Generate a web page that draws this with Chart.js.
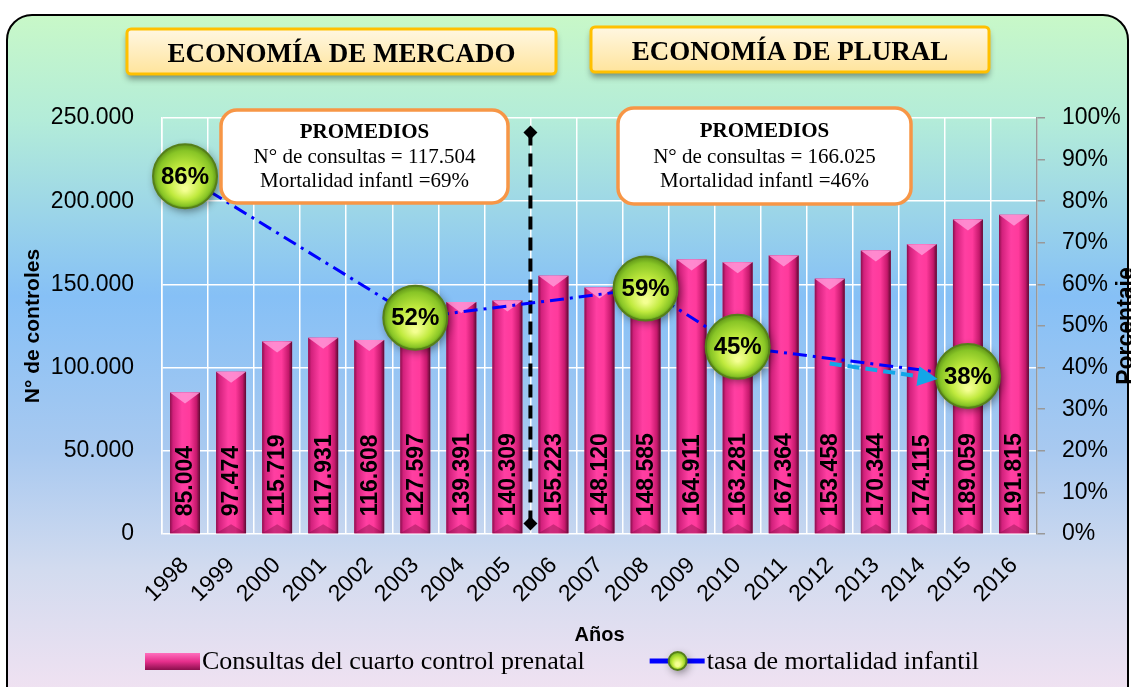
<!DOCTYPE html>
<html>
<head>
<meta charset="utf-8">
<script src="https://cdn.jsdelivr.net/npm/chart.js@4.4.0/dist/chart.umd.min.js"></script>
<style>
html, body { margin: 0; padding: 0; width: 1131px; height: 687px; overflow: hidden; background: #fff; }
#bg {
    position: absolute; left: 6px; top: 14px; width: 1119px; height: 700px;
    border: 2px solid #000; border-radius: 26px;
    background: linear-gradient(to bottom, #c8f8c8 0%, #b3ecd9 15%, #86c0f6 40%, #a8c9f0 62%, #d2dbef 79%, #f6e3f2 100%);
}
#wrap { position: absolute; left: 0; top: 0; width: 1131px; height: 687px; }
</style>
</head>
<body>
<div id="bg"></div>
<div id="wrap"><canvas id="chart" width="1131" height="687"></canvas></div>
<script>
const years = ['1998', '1999', '2000', '2001', '2002', '2003', '2004', '2005', '2006', '2007',
               '2008', '2009', '2010', '2011', '2012', '2013', '2014', '2015', '2016'];
const consultas = [85004, 97474, 115719, 117931, 116608, 127597, 139391, 140309, 155223, 148120,
                   148585, 164911, 163281, 167364, 153458, 170344, 174115, 189059, 191815];
const mortalidad = [86, null, null, null, null, 52, null, null, null, null,
                    59, null, 45, null, null, null, null, 38, null];
const tendencia = [null, null, null, null, null, null, null, null, null, null,
                   null, null, null, null, 41, null, 37.8, null, null];
const periodos = ['ECONOMÍA DE MERCADO', 'ECONOMÍA DE PLURAL'];
const promediosMercado = ['PROMEDIOS', 'N° de consultas = 117.504', 'Mortalidad infantl =69%'];
const promediosPlural = ['PROMEDIOS', 'N° de consultas = 166.025', 'Mortalidad infantl =46%'];

const SANS = '"Liberation Sans", Arial, sans-serif';
const SERIF = '"Liberation Serif", "Times New Roman", serif';

function miles(v) {
    return String(v).replace(/\B(?=(\d{3})+(?!\d))/g, '.');
}

function roundRect(ctx, x, y, w, h, r) {
    ctx.beginPath();
    ctx.moveTo(x + r, y);
    ctx.arcTo(x + w, y, x + w, y + h, r);
    ctx.arcTo(x + w, y + h, x, y + h, r);
    ctx.arcTo(x, y + h, x, y, r);
    ctx.arcTo(x, y, x + w, y, r);
    ctx.closePath();
}

function bubble(ctx, x, y, r, txt) {
    ctx.save();
    ctx.shadowColor = 'rgba(0,0,0,0.45)';
    ctx.shadowBlur = 8;
    ctx.shadowOffsetX = 2;
    ctx.shadowOffsetY = 3;
    const g = ctx.createRadialGradient(x, y + r * 0.4, 2, x, y, r);
    g.addColorStop(0, '#f4ff92');
    g.addColorStop(0.5, '#c0ea3e');
    g.addColorStop(0.85, '#88c526');
    g.addColorStop(1, '#5e9418');
    ctx.beginPath();
    ctx.arc(x, y, r, 0, Math.PI * 2);
    ctx.fillStyle = g;
    ctx.fill();
    ctx.shadowColor = 'transparent';
    ctx.lineWidth = 2;
    ctx.strokeStyle = '#567f1a';
    ctx.stroke();
    if (txt) {
        ctx.fillStyle = '#000';
        ctx.font = 'bold 24px ' + SANS;
        ctx.textAlign = 'center';
        ctx.textBaseline = 'middle';
        ctx.fillText(txt, x, y + 1);
    }
    ctx.restore();
}

function barGradient(ctx, l, r) {
    const g = ctx.createLinearGradient(l, 0, r, 0);
    g.addColorStop(0, '#8a0f4c');
    g.addColorStop(0.1, '#d2217c');
    g.addColorStop(0.4, '#ff3fa2');
    g.addColorStop(0.65, '#ff3a9c');
    g.addColorStop(0.88, '#c5186c');
    g.addColorStop(1, '#5a0a30');
    return g;
}

const decoraciones = {
    id: 'decoraciones',
    beforeDatasetsDraw(chart) {
        const ctx = chart.ctx;
        // cajas de periodo
        const cajas = [[127, 29, 429, 45], [591, 27, 398, 45]];
        cajas.forEach((b, i) => {
            ctx.save();
            ctx.shadowColor = 'rgba(0,0,0,0.4)';
            ctx.shadowBlur = 6;
            ctx.shadowOffsetY = 5;
            const g = ctx.createLinearGradient(0, b[1], 0, b[1] + b[3]);
            g.addColorStop(0, '#fff7e2');
            g.addColorStop(1, '#ffe49c');
            roundRect(ctx, b[0], b[1], b[2], b[3], 4);
            ctx.fillStyle = g;
            ctx.fill();
            ctx.shadowColor = 'transparent';
            ctx.lineWidth = 3;
            ctx.strokeStyle = '#ffc000';
            ctx.stroke();
            ctx.fillStyle = '#000';
            ctx.font = 'bold 27px ' + SERIF;
            ctx.textAlign = 'center';
            ctx.textBaseline = 'middle';
            ctx.fillText(periodos[i], b[0] + b[2] / 2, b[1] + b[3] / 2 + 4);
            ctx.restore();
        });
    },
    afterDatasetDraw(chart, args) {
        const ctx = chart.ctx;
        const meta = args.meta;
        const x = chart.scales.x, y1 = chart.scales.y1;
        if (args.index === 0) {
            ctx.save();
            meta.data.forEach((el, i) => {
                const p = el.getProps(['x', 'y', 'base', 'width'], true);
                const l = p.x - p.width / 2, r = p.x + p.width / 2;
                ctx.fillStyle = barGradient(ctx, l, r);
                ctx.fillRect(l, p.y, p.width, p.base - p.y);
                ctx.beginPath();
                ctx.moveTo(l, p.y); ctx.lineTo(r, p.y); ctx.lineTo(p.x, p.y + 11); ctx.closePath();
                ctx.fillStyle = 'rgba(255,150,215,0.85)';
                ctx.fill();
                ctx.beginPath();
                ctx.moveTo(l, p.base); ctx.lineTo(r, p.base); ctx.lineTo(p.x, p.base - 9); ctx.closePath();
                ctx.fillStyle = 'rgba(110,10,55,0.35)';
                ctx.fill();
                // etiqueta
                ctx.save();
                ctx.translate(p.x, p.base - 17);
                ctx.rotate(-Math.PI / 2);
                ctx.fillStyle = '#000';
                ctx.font = 'bold 23px ' + SANS;
                ctx.textAlign = 'left';
                ctx.textBaseline = 'middle';
                ctx.fillText(miles(consultas[i]), 0, 1);
                ctx.restore();
            });
            // linea divisoria
            const xd = x.getPixelForValue(7.5);
            const yt = y1.getPixelForValue(96.5), yb = y1.getPixelForValue(2.5);
            ctx.strokeStyle = '#000';
            ctx.lineWidth = 4;
            ctx.setLineDash([13, 8]);
            ctx.beginPath();
            ctx.moveTo(xd, yt); ctx.lineTo(xd, yb);
            ctx.stroke();
            ctx.setLineDash([]);
            [yt, yb].forEach(yy => {
                ctx.beginPath();
                ctx.moveTo(xd, yy - 7); ctx.lineTo(xd + 7, yy); ctx.lineTo(xd, yy + 7); ctx.lineTo(xd - 7, yy);
                ctx.closePath();
                ctx.fillStyle = '#000';
                ctx.fill();
            });
            ctx.restore();
        }
        if (args.index === 1) {
            meta.data.forEach((el, i) => {
                if (mortalidad[i] === null) return;
                bubble(ctx, el.x, el.y, 32, mortalidad[i] + '%');
            });
        }
        if (args.index === 2) {
            const pts = meta.data.filter((el, i) => tendencia[i] !== null);
            const a = pts[pts.length - 2], b = pts[pts.length - 1];
            const ang = Math.atan2(b.y - a.y, b.x - a.x);
            ctx.save();
            ctx.translate(b.x, b.y);
            ctx.rotate(ang);
            ctx.beginPath();
            ctx.moveTo(16, 0); ctx.lineTo(-4, -10); ctx.lineTo(-4, 10); ctx.closePath();
            ctx.fillStyle = '#12a6e8';
            ctx.fill();
            ctx.restore();
        }
    },
    afterDraw(chart) {
        const ctx = chart.ctx;
        const area = chart.chartArea;
        ctx.save();
        // cajas de promedios
        const cajas = [[221, 110, 287, 93, promediosMercado], [618, 108, 293, 96, promediosPlural]];
        cajas.forEach(b => {
            roundRect(ctx, b[0], b[1], b[2], b[3], 16);
            ctx.fillStyle = '#fff';
            ctx.fill();
            ctx.lineWidth = 3.5;
            ctx.strokeStyle = '#f79646';
            ctx.stroke();
            const cx = b[0] + b[2] / 2, cy = b[1] + b[3] / 2;
            ctx.fillStyle = '#000';
            ctx.textAlign = 'center';
            ctx.textBaseline = 'middle';
            ctx.font = 'bold 21px ' + SERIF;
            ctx.fillText(b[4][0], cx, cy - 24);
            ctx.font = '21px ' + SERIF;
            ctx.fillText(b[4][1], cx, cy + 1);
            ctx.fillText(b[4][2], cx, cy + 25);
        });
        // titulo eje derecho
        ctx.save();
        ctx.translate(1133, (area.top + area.bottom) / 2);
        ctx.rotate(-Math.PI / 2);
        ctx.font = 'bold 23px ' + SANS;
        ctx.textAlign = 'center';
        ctx.textBaseline = 'alphabetic';
        ctx.fillStyle = '#000';
        ctx.fillText('Porcentaje', 0, 0);
        ctx.restore();
        // leyenda
        const ly = 661;
        let lx = 145;
        const g = ctx.createLinearGradient(0, ly - 8, 0, ly + 9);
        g.addColorStop(0, '#ff6fbd');
        g.addColorStop(0.5, '#e62f8c');
        g.addColorStop(1, '#8a0f4c');
        ctx.fillStyle = g;
        ctx.fillRect(lx, ly - 8, 55, 17);
        ctx.font = '26px ' + SERIF;
        ctx.textAlign = 'left';
        ctx.textBaseline = 'middle';
        ctx.fillStyle = '#000';
        const t1 = chart.data.datasets[0].label;
        ctx.fillText(t1, lx + 57, ly + 1);
        lx = lx + 57 + ctx.measureText(t1).width + 65;
        ctx.strokeStyle = '#0000ff';
        ctx.lineWidth = 5;
        ctx.beginPath();
        ctx.moveTo(lx, ly); ctx.lineTo(lx + 55, ly);
        ctx.stroke();
        bubble(ctx, lx + 28, ly, 9, '');
        ctx.fillStyle = '#000';
        ctx.fillText(chart.data.datasets[1].label, lx + 57, ly + 1);
        ctx.restore();
    }
};

new Chart(document.getElementById('chart'), {
    type: 'bar',
    data: {
        labels: years,
        datasets: [
            {
                label: 'Consultas del cuarto control prenatal',
                data: consultas,
                backgroundColor: '#e62f8c',
                borderWidth: 0,
                categoryPercentage: 1,
                barPercentage: 0.65,
                yAxisID: 'y',
                order: 3
            },
            {
                type: 'line',
                label: 'tasa de mortalidad infantil',
                data: mortalidad,
                borderColor: '#0000ff',
                borderWidth: 3,
                borderDash: [14, 6, 3, 6],
                spanGaps: true,
                pointRadius: 0,
                fill: false,
                yAxisID: 'y1',
                order: 2
            },
            {
                type: 'line',
                label: 'tendencia',
                data: tendencia,
                borderColor: '#12a6e8',
                borderWidth: 4,
                borderDash: [12, 6],
                spanGaps: true,
                pointRadius: 0,
                fill: false,
                yAxisID: 'y1',
                order: 1
            }
        ]
    },
    options: {
        responsive: false,
        animation: false,
        layout: { padding: { top: 118, left: 0, right: 0, bottom: 0 } },
        plugins: {
            legend: { display: false },
            tooltip: { enabled: false }
        },
        scales: {
            x: {
                grid: { color: '#ffffff', lineWidth: 1.5, offset: true, drawTicks: false },
                border: { display: false },
                ticks: {
                    color: '#000', font: { family: SANS, size: 23 },
                    minRotation: 45, maxRotation: 45, padding: 18, autoSkip: false
                },
                title: {
                    display: true, text: 'Años', color: '#000',
                    font: { family: SANS, size: 20, weight: 'bold' },
                    padding: { top: 0, bottom: 40 }
                },
                afterFit: s => { s.height = 153; }
            },
            y: {
                position: 'left',
                min: 0, max: 250000,
                ticks: {
                    stepSize: 50000, color: '#000', padding: 28,
                    font: { family: SANS, size: 23 },
                    callback: v => miles(v)
                },
                grid: { color: '#ffffff', lineWidth: 1.5, drawTicks: false },
                border: { color: '#ffffff', width: 1.5 },
                title: {
                    display: true, text: 'N° de controles', color: '#000',
                    font: { family: SANS, size: 21, weight: 'bold' },
                    padding: { top: 21, bottom: 0 }
                },
                afterFit: s => { s.width = 162; }
            },
            y1: {
                position: 'right',
                min: 0, max: 100,
                ticks: {
                    stepSize: 10, color: '#000', padding: 17,
                    font: { family: SANS, size: 23 },
                    callback: v => v + '%'
                },
                grid: { drawOnChartArea: false, color: '#999999', lineWidth: 1.5, tickLength: 8 },
                border: { color: '#999999', width: 1.5 },
                afterFit: s => { s.width = 94; }
            }
        }
    },
    plugins: [decoraciones]
});
</script>
</body>
</html>
